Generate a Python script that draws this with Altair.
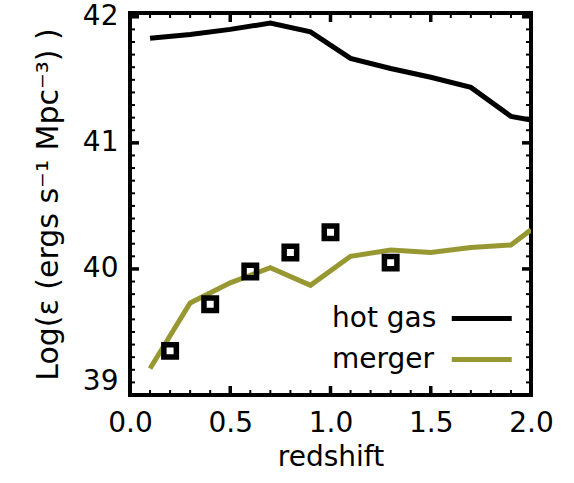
import altair as alt
import pandas as pd

# ---- data ----
z_lines = [0.1, 0.3, 0.5, 0.7, 0.9, 1.1, 1.3, 1.5, 1.7, 1.9, 2.0]
hot_gas = [41.83, 41.86, 41.90, 41.95, 41.88, 41.67, 41.59, 41.52, 41.44, 41.21, 41.18]
merger = [39.21, 39.73, 39.89, 40.01, 39.87, 40.10, 40.15, 40.13, 40.17, 40.19, 40.31]

z_obs = [0.2, 0.4, 0.6, 0.8, 1.0, 1.3]
obs = [39.35, 39.72, 39.98, 40.13, 40.29, 40.05]

series_names = ["hot gas", "merger"]
series_colors = ["#000000", "#989832"]

x_major = [0.0, 0.5, 1.0, 1.5, 2.0]
x_minor = [round(i * 0.1, 1) for i in range(21)]
y_major = [39, 40, 41, 42]
y_minor = [round(39 + i * 0.1, 1) for i in range(31)]

W, H = 401, 382
FONT = "DejaVu Sans"
FS = 28

lines_df = pd.DataFrame(
    {
        "z": z_lines * 2,
        "val": hot_gas + merger,
        "series": [series_names[0]] * len(z_lines) + [series_names[1]] * len(z_lines),
    }
)
obs_df = pd.DataFrame({"z": z_obs, "val": obs})

xs = alt.Scale(domain=[0, 2], nice=False, zero=False)
ys = alt.Scale(domain=[39, 42.03], nice=False, zero=False)

lines = alt.Chart(lines_df).mark_line(strokeWidth=5, clip=True).encode(
    x=alt.X("z:Q", scale=xs, axis=alt.Axis(
        orient="bottom", values=x_major, format=".1f", title="redshift",
        ticks=False, domain=False, grid=False, labelPadding=14, labelFlush=False,
        labelFontSize=FS, titleFontSize=FS, titlePadding=6,
        labelFont=FONT, titleFont=FONT, titleFontWeight="normal",
        labelColor="black", titleColor="black")),
    y=alt.Y("val:Q", scale=ys, axis=alt.Axis(
        orient="left", values=y_major, format="d",
        title="Log(ε (ergs s⁻¹ Mpc⁻³) )",
        ticks=False, domain=False, grid=False, labelPadding=12, labelFlush=True,
        labelFontSize=FS, titleFontSize=30, titlePadding=19,
        labelFont=FONT, titleFont=FONT, titleFontWeight="normal",
        labelColor="black", titleColor="black")),
    color=alt.Color("series:N",
                    scale=alt.Scale(domain=series_names, range=series_colors),
                    legend=alt.Legend(
                        orient="none", legendX=167, legendY=288, title=None,
                        symbolType="M9.15,0H13.15", symbolSize=900, symbolStrokeWidth=5,
                        labelAlign="left", labelOffset=0, labelFontSize=FS,
                        labelFont=FONT, labelColor="black", padding=0, rowPadding=9)),
    detail="series:N",
)

squares = alt.Chart(obs_df).mark_point(
    shape="square", filled=False, size=156, strokeWidth=5.5, color="black", opacity=1
).encode(
    x=alt.X("z:Q", scale=xs),
    y=alt.Y("val:Q", scale=ys),
)

# inward tick marks on all four sides of the frame
xmaj_df = pd.DataFrame({"t": x_major})
xmin_df = pd.DataFrame({"t": x_minor})
ymaj_df = pd.DataFrame({"t": y_major})
ymin_df = pd.DataFrame({"t": y_minor})


def xticks(df, length, width):
    base = alt.Chart(df).mark_rule(color="black", strokeWidth=width)
    bottom = base.encode(x=alt.X("t:Q", scale=xs), y=alt.value(H), y2=alt.value(H - length))
    top = base.encode(x=alt.X("t:Q", scale=xs), y=alt.value(0), y2=alt.value(length))
    return [bottom, top]


def yticks(df, length, width):
    base = alt.Chart(df).mark_rule(color="black", strokeWidth=width)
    left = base.encode(y=alt.Y("t:Q", scale=ys), x=alt.value(0), x2=alt.value(length))
    right = base.encode(y=alt.Y("t:Q", scale=ys), x=alt.value(W), x2=alt.value(W - length))
    return [left, right]


tick_layers = (
    xticks(xmin_df, 5, 2) + xticks(xmaj_df, 9, 3.5)
    + yticks(ymin_df, 5, 2) + yticks(ymaj_df, 9, 3.5)
)

chart = (
    alt.layer(*tick_layers, lines, squares)
    .properties(
        width=W, height=H, autosize="none",
        padding={"left": 130, "top": 13, "right": 43, "bottom": 88},
        background="white",
    )
    .configure_view(stroke="black", strokeWidth=4)
)

chart.save("out.html", embed_options={"renderer": "svg", "actions": False})
